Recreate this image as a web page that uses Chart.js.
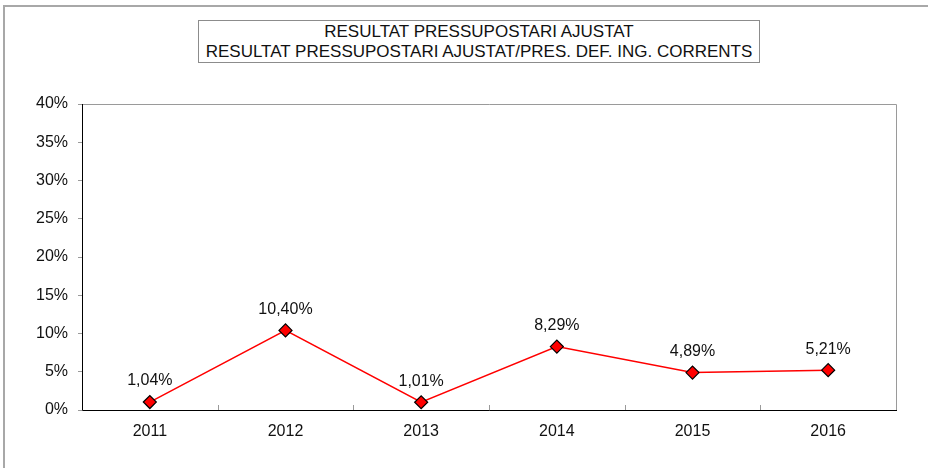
<!DOCTYPE html>
<html>
<head>
<meta charset="utf-8">
<script src="https://cdn.jsdelivr.net/npm/chart.js@4"></script>
<style>
  body { margin: 0; background: #fff; font-family: "Liberation Sans", Arial, sans-serif; }
  #wrap { position: relative; width: 928px; height: 468px; overflow: hidden; }
  #frame { position: absolute; left: 3px; top: 5px; width: 940px; height: 480px;
           border-left: 2px solid #a8a8a8; border-top: 2px solid #a8a8a8; }
  #title { position: absolute; left: 198px; top: 20px; width: 562px; height: 43px;
           border: 1px solid #8c8c8c; text-align: center; font-size: 17px; color: #111;
           line-height: 20px; padding-top: 1px; box-sizing: border-box; background: #fff; }
  canvas { position: absolute; left: 0; top: 0; }
</style>
</head>
<body>
<div id="wrap">
  <div id="frame"></div>
  <canvas id="line-chart" width="928" height="468"></canvas>
  <div id="title">RESULTAT PRESSUPOSTARI AJUSTAT<br>RESULTAT PRESSUPOSTARI AJUSTAT/PRES. DEF. ING. CORRENTS</div>
</div>
<script>
// years and adjusted budget result ratio (%)
var years = ["2011", "2012", "2013", "2014", "2015", "2016"];
var ratio = [1.04, 10.40, 1.01, 8.29, 4.89, 5.21];
var yTicks = [0, 5, 10, 15, 20, 25, 30, 35, 40];

var fontFamily = "'Liberation Sans', Arial, sans-serif";

function pct(v) {
  return v.toFixed(2).replace(".", ",") + "%";
}

// plot frame: black left/bottom, gray top/right, small inward ticks between years
var framePlugin = {
  id: "frame",
  afterDraw: function(chart) {
    var ctx = chart.ctx, a = chart.chartArea;
    ctx.save();
    ctx.lineWidth = 1;
    ctx.strokeStyle = "#9a9a9a";
    ctx.beginPath();
    ctx.moveTo(a.left, a.top + 0.5);
    ctx.lineTo(a.right + 0.5, a.top + 0.5);
    ctx.lineTo(a.right + 0.5, a.bottom);
    ctx.stroke();
    var x = chart.scales.x;
    ctx.beginPath();
    for (var i = 1; i < years.length; i++) {
      var px = Math.round((x.getPixelForValue(i - 1) + x.getPixelForValue(i)) / 2) + 0.5;
      ctx.moveTo(px, a.bottom);
      ctx.lineTo(px, a.bottom - 5);
    }
    ctx.stroke();
    ctx.strokeStyle = "#000";
    ctx.beginPath();
    ctx.moveTo(a.left + 0.5, a.top);
    ctx.lineTo(a.left + 0.5, a.bottom + 0.5);
    ctx.lineTo(a.right + 1, a.bottom + 0.5);
    ctx.stroke();
    ctx.restore();
  }
};

// value labels above each point
var labelPlugin = {
  id: "valueLabels",
  afterDatasetsDraw: function(chart) {
    var ctx = chart.ctx;
    var meta = chart.getDatasetMeta(0);
    ctx.save();
    ctx.font = "16px " + fontFamily;
    ctx.fillStyle = "#111";
    ctx.textAlign = "center";
    ctx.textBaseline = "middle";
    meta.data.forEach(function(pt, i) {
      ctx.fillText(pct(ratio[i]), pt.x, pt.y - 21);
    });
    ctx.restore();
  }
};

new Chart(document.getElementById("line-chart"), {
  type: "line",
  data: {
    labels: years,
    datasets: [{
      data: ratio,
      borderColor: "#ff0000",
      borderWidth: 1.5,
      pointStyle: "rectRot",
      pointRadius: 6.5,
      pointHoverRadius: 6.5,
      pointBackgroundColor: "#ff0000",
      pointBorderColor: "#000",
      pointBorderWidth: 1.2,
      tension: 0,
      fill: false
    }]
  },
  options: {
    responsive: false,
    animation: false,
    layout: { padding: { top: 104, right: 32, left: 0, bottom: 0 } },
    plugins: { legend: { display: false }, title: { display: false }, tooltip: { enabled: false } },
    scales: {
      x: {
        offset: true,
        border: { display: false },
        grid: { display: false, drawTicks: false },
        ticks: { color: "#111", padding: 12, font: { size: 16, family: fontFamily } },
        afterFit: function(s) { s.height = 58; }
      },
      y: {
        min: 0,
        max: 40,
        afterBuildTicks: function(s) { s.ticks = yTicks.map(function(v) { return { value: v }; }); },
        border: { display: false },
        grid: { drawOnChartArea: false, drawTicks: true, tickLength: 4, color: "#9a9a9a" },
        ticks: {
          color: "#111",
          padding: 10,
          font: { size: 16, family: fontFamily },
          callback: function(v) { return v + "%"; }
        },
        afterFit: function(s) { s.width = 82; }
      }
    }
  },
  plugins: [framePlugin, labelPlugin]
});
</script>
</body>
</html>
